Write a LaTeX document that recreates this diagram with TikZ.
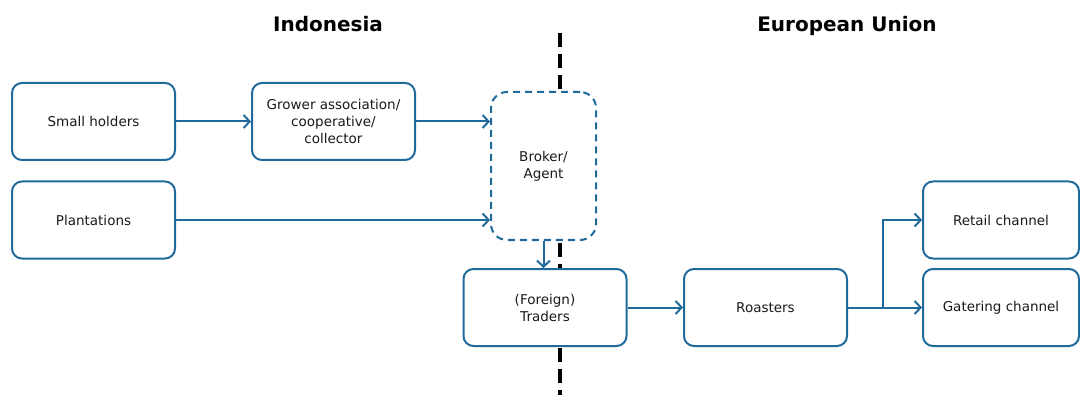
\documentclass[tikz,border=0pt]{standalone}
\usepackage{fontspec}
\setmainfont{DejaVu Sans}
\usetikzlibrary{arrows.meta}
\definecolor{flowblue}{HTML}{1F6A9A}
\definecolor{txt}{HTML}{1A1A1A}
\tikzset{
  box/.style={draw=flowblue, line width=2pt, rounded corners=10pt, fill=white,
    minimum width=163pt, minimum height=77pt, align=center, inner sep=0pt,
    text=txt, font=\fontsize{13.5}{17}\selectfont},
  sidebox/.style={box, minimum width=156pt},
  dbox/.style={box, dashed, dash pattern=on 7pt off 5pt, rounded corners=16pt,
    minimum width=105pt, minimum height=148pt},
  flow/.style={draw=flowblue, line width=2pt, -{Straight Barb[length=6pt,width=13pt,line width=2pt]}},
  title/.style={font=\bfseries\fontsize{20}{24}\selectfont, anchor=base},
  border/.style={draw=black, line width=4pt, dash pattern=on 14pt off 7pt}
}
\begin{document}
\begin{tikzpicture}[x=1pt,y=-1pt]
\useasboundingbox (0,0) rectangle (1080,401);
\coordinate (btop) at (560,33);
\coordinate (bbot) at (560,395);
\draw[border] (btop) -- (bbot);
\node[title] (indo) at (328,32) {Indonesia};
\node[title] (eu) at (847,32) {European Union};
\node[box] (small) at (93.5,121.5) {Small holders};
\node[box] (grower) at (333.5,121.5) {Grower association/\\cooperative/\\collector};
\node[box] (plant) at (93.5,220) {Plantations};
\node[dbox] (broker) at (543.5,166) {Broker/\\Agent};
\node[box] (traders) at (545,307.5) {(Foreign)\\Traders};
\node[box] (roast) at (765.5,307.5) {Roasters};
\node[sidebox] (retail) at (1001,220) {Retail channel};
\node[sidebox] (cater) at (1001,307.5) {Gatering channel};
\coordinate (split) at (883,307.5);
\draw[flow] (small) -- (grower);
\draw[flow] (grower.east) -- (grower.east -| broker.west);
\draw[flow] (plant.east) -- (plant.east -| broker.west);
\draw[flow] (broker.south) -- (traders.north -| broker.south);
\draw[flow] (traders) -- (roast);
\draw[flow] (roast.east) -- (split) |- (retail.west);
\draw[flow] (roast.east) -- (cater.west);
\end{tikzpicture}
\end{document}
